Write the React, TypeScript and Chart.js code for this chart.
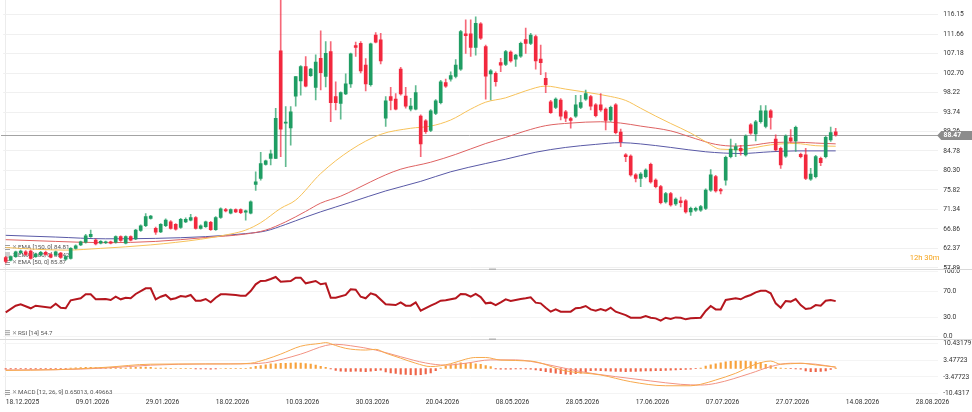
import React, { useEffect, useRef } from "react";
import { Chart, registerables } from "chart.js";

Chart.register(...registerables);

// ---------- data ----------
const dateLabels = [
  "18.12.2025", "09.01.2026", "29.01.2026", "18.02.2026", "10.03.2026", "30.03.2026", "20.04.2026",
  "08.05.2026", "28.05.2026", "17.06.2026", "07.07.2026", "27.07.2026", "14.08.2026", "28.08.2026",
];

const opens = [
  60.3, 59.7, 60.5, 61.4, 61.6, 61.8, 60.5, 60.9, 61.5, 61.0,
  60.9, 61.3, 59.9, 60.1, 62.4, 63.2, 63.8, 65.1, 64.3, 63.6,
  63.7, 63.9, 63.8, 65.1, 63.6, 65.1, 64.6, 66.5, 67.6, 69.3,
  67.0, 66.2, 67.6, 68.5, 67.9, 67.2, 68.5, 68.9, 69.5, 67.0,
  67.4, 68.4, 66.7, 69.5, 71.3, 70.5, 71.3, 71.3, 70.7, 70.5,
  77.1, 78.5, 81.7, 83.1, 83.1, 107.8, 91.2, 90.1, 97.4, 100.9,
  104.2, 102.1, 99.4, 106.1, 101.9, 107.6, 97.3, 95.7, 97.9, 100.2,
  109.0, 109.5, 104.5, 100.0, 111.4, 110.3, 92.3, 97.3, 96.7, 103.6,
  97.4, 94.4, 94.4, 92.8, 91.7, 89.5, 93.4, 95.9, 100.5, 101.3,
  101.9, 103.6, 111.7, 111.7, 108.6, 114.0, 108.8, 102.5, 102.6, 105.1,
  104.7, 107.5, 105.9, 106.6, 110.4, 109.5, 111.1, 105.9, 101.5, 96.1,
  94.8, 96.5, 93.8, 92.2, 92.8, 94.8, 96.7, 97.3, 95.4, 95.4,
  94.4, 91.9, 95.4, 89.1, 83.9, 83.6, 79.3, 78.5, 78.9, 81.7,
  78.1, 76.6, 73.1, 75.0, 72.6, 73.3, 73.3, 70.8, 71.2, 71.2,
  71.6, 75.8, 78.9, 75.9, 78.1, 83.5, 85.0, 85.4, 83.9, 90.8,
  88.7, 91.5, 90.4, 94.0, 87.5, 85.4, 83.6, 87.8, 87.1, 84.0,
  83.9, 78.3, 78.9, 83.1, 83.5, 87.3, 89.2,
];
const highs = [
  60.6, 60.7, 61.8, 62.0, 61.9, 62.0, 61.3, 61.7, 61.8, 61.2,
  61.8, 61.5, 60.7, 62.6, 63.2, 64.1, 65.6, 66.6, 64.6, 64.2,
  64.1, 64.1, 65.3, 65.3, 65.3, 65.3, 66.8, 67.8, 70.4, 70.0,
  67.3, 68.1, 69.2, 68.8, 68.1, 69.3, 69.4, 70.2, 69.7, 67.8,
  68.7, 68.6, 69.7, 71.7, 71.6, 71.5, 71.5, 71.5, 71.2, 73.3,
  80.0, 84.5, 82.7, 85.0, 94.6, 121.0, 95.0, 95.0, 101.9, 104.4,
  106.5, 103.8, 106.9, 112.4, 109.9, 109.9, 100.7, 98.4, 102.5, 107.3,
  109.8, 109.9, 106.0, 109.6, 112.0, 111.8, 97.3, 99.4, 98.0, 104.0,
  99.4, 96.9, 99.8, 93.1, 92.0, 94.3, 96.6, 101.0, 101.3, 103.0,
  105.8, 112.5, 114.9, 114.9, 115.6, 114.3, 109.1, 103.5, 103.0, 106.1,
  107.9, 107.8, 107.0, 109.8, 113.0, 111.8, 111.4, 109.1, 102.8, 96.4,
  97.0, 96.8, 94.1, 92.5, 97.6, 97.6, 98.8, 97.6, 95.7, 98.0,
  94.7, 95.1, 95.7, 89.8, 84.2, 83.9, 79.6, 79.8, 80.7, 82.0,
  78.4, 76.9, 75.3, 75.3, 74.0, 74.2, 73.6, 71.9, 71.9, 72.3,
  76.1, 80.5, 79.2, 76.2, 83.6, 87.5, 86.5, 86.1, 88.5, 91.1,
  91.8, 95.2, 95.2, 94.3, 88.5, 85.7, 88.5, 89.7, 90.5, 84.3,
  85.4, 80.8, 83.8, 83.4, 88.2, 90.3, 90.0,
];
const lows = [
  59.0, 59.5, 60.3, 61.2, 60.8, 59.9, 60.3, 60.7, 60.8, 60.2,
  60.7, 60.1, 59.7, 59.9, 62.2, 63.0, 63.6, 64.9, 63.2, 63.4,
  63.5, 63.4, 63.6, 64.0, 63.4, 64.1, 64.4, 66.3, 67.4, 69.1,
  65.6, 66.0, 67.4, 66.8, 66.6, 67.0, 68.3, 68.7, 66.8, 66.8,
  67.2, 66.5, 66.5, 69.3, 70.8, 70.3, 70.6, 70.4, 68.9, 70.3,
  75.7, 78.1, 81.5, 81.6, 83.0, 83.5, 81.2, 86.1, 95.1, 97.6,
  99.5, 101.9, 96.5, 98.8, 99.5, 91.5, 94.2, 92.1, 97.7, 99.4,
  106.5, 102.7, 98.6, 99.7, 109.6, 104.8, 90.4, 94.2, 94.2, 97.6,
  94.6, 94.0, 94.2, 83.5, 88.8, 89.2, 93.1, 95.6, 99.4, 100.8,
  101.6, 103.3, 107.2, 106.5, 106.8, 110.4, 96.7, 96.5, 99.7, 103.0,
  104.4, 105.2, 104.2, 106.3, 107.2, 109.2, 103.6, 102.3, 98.2, 93.4,
  94.5, 91.9, 91.5, 90.0, 92.5, 94.5, 96.4, 94.2, 92.6, 93.9,
  89.6, 91.6, 88.7, 85.8, 82.3, 79.0, 77.7, 76.6, 78.6, 77.4,
  76.3, 72.6, 72.8, 72.1, 72.3, 71.9, 70.5, 70.0, 70.9, 70.9,
  71.3, 75.5, 75.3, 74.9, 76.9, 83.2, 83.5, 83.8, 83.6, 88.6,
  87.1, 91.2, 90.1, 89.8, 84.8, 80.8, 83.3, 86.8, 84.7, 83.2,
  78.2, 78.0, 78.6, 81.4, 83.2, 87.0, 88.2,
];
const closes = [
  59.4, 60.5, 61.6, 61.8, 61.0, 60.1, 61.1, 61.5, 61.0, 60.4,
  61.6, 60.3, 60.5, 62.4, 63.0, 63.9, 65.3, 65.6, 63.4, 64.0,
  63.9, 63.6, 65.1, 64.2, 65.1, 64.3, 66.6, 67.6, 69.7, 69.8,
  66.1, 67.9, 68.9, 67.0, 66.8, 69.1, 69.1, 69.5, 67.0, 67.6,
  68.5, 66.7, 69.5, 71.5, 71.0, 71.3, 70.8, 70.6, 71.0, 73.1,
  77.7, 81.9, 82.5, 84.1, 92.3, 89.8, 91.4, 93.8, 101.9, 104.2,
  99.7, 103.6, 105.2, 102.8, 107.2, 95.9, 95.9, 98.2, 100.2, 107.1,
  108.6, 103.2, 100.2, 109.4, 109.8, 105.5, 96.3, 96.4, 94.4, 97.9,
  95.1, 95.1, 98.2, 86.4, 89.2, 94.0, 96.3, 100.7, 99.7, 102.1,
  104.5, 112.2, 111.3, 108.6, 114.1, 110.7, 102.0, 103.2, 100.7, 104.5,
  107.6, 105.5, 106.8, 109.5, 109.5, 111.4, 105.5, 105.1, 100.0, 93.6,
  96.7, 92.8, 92.3, 91.8, 95.4, 95.9, 98.0, 95.1, 92.9, 94.2,
  91.8, 94.8, 89.0, 86.9, 83.5, 79.3, 78.5, 79.5, 80.4, 77.7,
  76.6, 72.9, 75.0, 72.4, 73.7, 72.9, 70.8, 71.6, 71.6, 72.0,
  75.8, 79.3, 75.6, 75.6, 83.3, 85.2, 85.8, 84.8, 88.2, 88.9,
  91.5, 94.0, 94.0, 92.5, 85.0, 81.6, 88.2, 87.1, 90.2, 83.5,
  78.5, 79.5, 83.5, 82.1, 87.9, 89.0, 88.47,
];

const lastPrice = 88.47;
const priceTicks = [57.89, 62.37, 66.86, 71.34, 75.82, 80.3, 84.78, 89.26, 93.74, 98.22, 102.7, 107.18, 111.66, 116.15];
const rsiTicks = [0, 30, 70, 100];
const macdTickValues = [-10.4317, -3.47723, 3.47723, 10.43179];
const macdTickLabels = ["-10.4317", "-3.47723", "3.47723", "10.43179"];

const ema50Bars = [0, 6, 12, 19, 29, 39, 45, 48, 51, 55, 58, 63, 69, 75, 81, 85, 89, 93, 96, 100, 104, 108, 112, 116, 121, 124, 127, 130, 133, 137, 140, 143, 147, 150, 153, 158, 162, 166];
const ema50Vals = [62.6, 62.2, 62.0, 62.4, 63.2, 64.5, 65.7, 66.6, 68.3, 71.6, 73.5, 79.6, 85.0, 88.6, 90.0, 90.5, 91.9, 94.4, 96.0, 97.0, 98.6, 99.7, 99.0, 98.3, 97.3, 96.4, 94.6, 92.8, 91.1, 88.9, 86.9, 85.2, 85.1, 85.6, 86.2, 86.5, 86.0, 85.87];

const ema100Bars = [0, 10, 20, 30, 40, 48, 52, 56, 60, 63, 67, 70, 73, 76, 79, 85, 90, 96, 100, 104, 108, 113, 119, 123, 127, 133, 138, 142, 146, 150, 153, 158, 162, 166];
const ema100Vals = [64.4, 64.0, 63.7, 64.0, 64.9, 65.7, 66.6, 68.5, 70.9, 72.8, 74.4, 76.0, 77.7, 79.3, 80.6, 82.2, 84.0, 86.5, 87.9, 89.4, 90.6, 91.2, 91.5, 91.2, 90.5, 89.4, 87.6, 86.3, 85.9, 86.2, 86.7, 86.8, 86.6, 86.42];

const ema150Bars = [0, 10, 20, 30, 40, 48, 52, 56, 60, 63, 69, 76, 83, 89, 96, 100, 106, 112, 118, 123, 127, 133, 140, 147, 153, 158, 166];
const ema150Vals = [65.4, 65.0, 64.6, 64.7, 65.1, 65.8, 66.4, 67.9, 69.6, 70.8, 73.0, 75.6, 77.8, 80.0, 81.9, 82.9, 84.5, 85.6, 86.3, 86.7, 86.4, 85.6, 84.6, 84.2, 84.6, 84.8, 84.81];

const rsiBars = [0, 2, 3, 5, 6, 9, 10, 11, 12, 13, 15, 16, 17, 18, 20, 21, 22, 23, 24, 25, 26, 28, 29, 30, 31, 32, 33, 34, 35, 36, 37, 38, 39, 40, 41, 42, 43, 44, 46, 47, 48, 49, 50, 51, 52, 53, 54, 55, 57, 58, 59, 60, 62, 63, 64, 65, 66, 68, 69, 70, 71, 72, 73, 74, 76, 78, 79, 80, 81, 82, 83, 85, 86, 87, 88, 90, 91, 92, 93, 94, 95, 96, 97, 98, 99, 100, 101, 103, 104, 105, 106, 107, 108, 109, 110, 111, 113, 114, 115, 116, 117, 118, 119, 120, 121, 122, 123, 124, 125, 127, 128, 129, 130, 131, 132, 133, 134, 135, 136, 137, 139, 140, 141, 142, 143, 144, 146, 147, 148, 149, 150, 151, 152, 153, 154, 155, 156, 157, 158, 159, 160, 161, 162, 163, 164, 165, 166];
const rsiVals = [37.5, 47.7, 49.8, 43.7, 47.7, 44.6, 50.8, 44.6, 43.7, 56.0, 59.1, 65.2, 65.2, 57.5, 58.0, 56.5, 61.5, 57.5, 60.0, 59.1, 65.7, 74.4, 74.4, 57.5, 61.5, 64.2, 57.5, 59.1, 62.6, 61.5, 64.2, 55.4, 55.4, 58.0, 52.9, 60.0, 65.2, 65.2, 64.2, 63.1, 63.1, 70.3, 80.6, 85.7, 86.2, 88.8, 91.8, 84.6, 85.7, 90.8, 90.8, 82.1, 85.7, 80.6, 82.1, 60.0, 60.0, 64.2, 72.9, 72.3, 61.5, 59.1, 66.7, 64.2, 49.8, 48.7, 52.9, 47.7, 47.7, 52.9, 40.0, 47.7, 51.3, 55.4, 56.0, 59.1, 65.7, 65.2, 61.5, 65.7, 61.0, 51.3, 52.4, 48.7, 52.9, 57.5, 55.0, 58.0, 59.1, 60.5, 52.4, 51.3, 44.6, 38.5, 42.0, 38.5, 38.5, 43.7, 44.6, 47.2, 42.0, 40.0, 42.6, 40.0, 44.6, 38.5, 35.9, 33.3, 29.2, 29.2, 31.8, 29.2, 28.2, 24.6, 29.2, 27.2, 29.7, 29.2, 26.7, 28.2, 29.2, 39.5, 47.2, 42.0, 42.0, 56.5, 59.1, 57.5, 61.5, 64.2, 68.3, 70.8, 70.8, 66.7, 51.3, 44.6, 55.0, 54.0, 58.0, 48.7, 42.6, 43.7, 48.7, 47.7, 55.4, 56.5, 54.7];

const macdBars = [0, 10, 20, 29, 40, 45, 49, 52, 55, 59, 63, 64, 66, 68, 72, 74, 76, 79, 82, 85, 89, 92, 94, 96, 99, 105, 112, 119, 125, 132, 137, 139, 142, 146, 150, 153, 155, 159, 162, 166];
const macdVals = [-0.8, -0.5, 0.5, 1.8, 1.9, 1.9, 2.2, 3.8, 6.0, 9.3, 10.5, 10.8, 9.6, 8.4, 7.7, 8.0, 6.4, 4.3, 2.2, 0.8, 2.0, 3.9, 4.6, 4.6, 3.5, 3.1, -1.0, -2.7, -5.5, -7.2, -7.2, -6.6, -4.8, -2.0, 1.8, 3.1, 1.8, 2.2, 1.5, 0.65];

const signalBars = [0, 10, 20, 29, 40, 49, 52, 59, 64, 66, 69, 74, 79, 84, 88, 92, 97, 102, 108, 115, 122, 129, 135, 139, 142, 149, 153, 157, 162, 166];
const signalVals = [-0.6, -0.5, 0.2, 1.4, 1.9, 2.0, 2.4, 6.0, 9.6, 10.1, 9.5, 7.7, 4.9, 2.3, 1.4, 2.2, 3.6, 3.6, 1.8, -1.3, -3.4, -5.2, -6.6, -6.9, -6.2, -2.0, 0.8, 2.2, 1.8, 0.5];

const macdHist = [
  -0.3, -0.2, -0.2, -0.1, -0.2, -0.3, -0.2, -0.1, -0.1, -0.2, -0.1, -0.2, -0.3,
  0.2, 0.3, 0.4, 0.5, 0.5, 0.4, 0.4, 0.3, 0.4, 0.3, 0.3, 0.2, 0.4, 0.5, 0.6, 0.6, 0.5,
  0.2, 0.2, 0.2, 0.1, 0.0, 0.1, 0.1, 0.1,
  -0.2, -0.2, -0.2, -0.3, -0.2, 0.0,
  0.1, 0.1, 0.1, 0.1, 0.1, 0.4,
  0.9, 1.2, 1.5, 1.9, 2.0, 2.2, 2.2, 2.3, 2.4, 2.3, 2.1, 1.8, 1.4, 0.9, 0.5,
  -0.2, -0.8, -1.1, -1.2, -1.2, -1.1, -1.2, -1.3, -1.1, -0.9, -0.7,
  -1.4, -1.8, -2.1, -2.4, -2.5, -2.6, -2.7, -2.6, -2.3, -1.8, -0.9, 0.2,
  1.0, 1.5, 1.9, 2.4, 2.2, 2.4, 2.0, 1.7, 1.2, 0.8,
  -0.2, -0.3, -0.3, -0.3, -0.2, -0.2, -0.2, -0.3,
  -0.6, -0.9, -1.3, -1.6, -1.9, -2.2, -2.4, -2.5, -2.2, -1.9, -1.3, -0.9,
  -0.8, -0.9, -1.0, -1.1, -1.2, -1.2, -1.3, -1.2, -1.2, -1.1, -1.0, -1.0, -0.9, -0.9, -0.8, -0.7, -0.6, -0.5, -0.4, -0.3,
  -0.1, 0.2,
  1.0, 1.5, 1.9, 2.4, 2.8, 3.0, 3.1, 3.1, 3.1, 2.9, 2.8, 2.6, 1.7, 1.2, 0.5,
  0.2, 0.1, -0.1, -0.2, -0.3,
  -1.0, -1.3, -1.3, -1.2, -1.0,
  -0.4, 0.15,
];

// ---------- styling ----------
const SLOTS = 187;
const GREEN = "#1f9d63";
const RED = "#f2283e";
const GREEN_WICK = "rgba(31,157,99,0.7)";
const RED_WICK = "rgba(242,40,62,0.7)";
const FONT = "Roboto, 'Noto Sans', sans-serif";

function spread(bars: number[], vals: number[]) {
  const out: (number | null)[] = new Array(SLOTS).fill(null);
  bars.forEach((b, k) => {
    out[b] = vals[k];
  });
  return out;
}

function drawTag(ctx: CanvasRenderingContext2D, y: number, text: string) {
  ctx.fillStyle = "#a0a0a0";
  ctx.fillRect(5, y - 2.5, 5, 1);
  ctx.fillRect(5, y - 0.5, 5, 1);
  ctx.fillRect(5, y + 1.5, 5, 1);
  ctx.fillStyle = "#8a8a8a";
  ctx.font = `6px ${FONT}`;
  ctx.textBaseline = "middle";
  ctx.textAlign = "left";
  ctx.fillText("✕", 11.5, y + 0.3);
  ctx.fillStyle = "#555";
  ctx.font = `6.2px ${FONT}`;
  ctx.fillText(text, 18, y + 0.3);
}

const overlay = {
  id: "overlay",
  beforeDatasetsDraw(chart: any) {
    const { ctx, chartArea, scales } = chart;
    ctx.save();
    const py = Math.round(scales.price.getPixelForValue(lastPrice)) + 0.5;
    ctx.strokeStyle = "#a3a3a3";
    ctx.lineWidth = 1;
    ctx.beginPath();
    ctx.moveTo(1, py);
    ctx.lineTo(chartArea.right, py);
    ctx.stroke();
    drawTag(ctx, 247.5, "EMA [150, 0] 84.81");
    drawTag(ctx, 255, "EMA [100, 0] 86.42");
    drawTag(ctx, 262.5, "EMA [50, 0] 85.87");
    ctx.restore();
  },
  afterDraw(chart: any) {
    const { ctx, scales, chartArea } = chart;
    ctx.save();
    ctx.strokeStyle = "#d9d9d9";
    ctx.lineWidth = 1;
    [scales.price.bottom, scales.rsi.bottom].forEach((yy: number) => {
      const y = Math.round(yy) + 0.5;
      ctx.beginPath();
      ctx.moveTo(0, y);
      ctx.lineTo(972, y);
      ctx.stroke();
      ctx.fillStyle = "#b5b5b5";
      ctx.fillRect(489, y - 1, 7, 1.5);
    });
    drawTag(ctx, 332.7, "RSI [14] 54.7");
    drawTag(ctx, 392.5, "MACD [12, 26, 9] 0.65013, 0.49663");
    const py = Math.round(scales.price.getPixelForValue(lastPrice)) + 0.5;
    ctx.fillStyle = "#8c8c8c";
    ctx.beginPath();
    ctx.moveTo(chartArea.right - 1, py);
    ctx.lineTo(chartArea.right + 3, py - 4.5);
    ctx.lineTo(972, py - 4.5);
    ctx.lineTo(972, py + 4.5);
    ctx.lineTo(chartArea.right + 3, py + 4.5);
    ctx.closePath();
    ctx.fill();
    ctx.fillStyle = "#ffffff";
    ctx.font = `bold 6.8px ${FONT}`;
    ctx.textAlign = "left";
    ctx.textBaseline = "middle";
    ctx.fillText(lastPrice.toFixed(2), 943.5, py + 0.3);
    ctx.fillStyle = "#f5a31a";
    ctx.font = `7.6px ${FONT}`;
    ctx.textAlign = "right";
    ctx.fillText("12h 30m", 939.5, 258.5);
    ctx.restore();
  },
};

export default function App() {
  const ref = useRef<HTMLCanvasElement>(null);

  useEffect(() => {
    const canvas = ref.current;
    if (!canvas) return;
    const labels = Array.from({ length: SLOTS }, (_, i) => String(i));
    const up = closes.map((c, i) => c >= opens[i]);
    const bodies = opens.map((o, i) => [Math.min(o, closes[i]), Math.max(o, closes[i])]);
    const wicks = highs.map((h, i) => [lows[i], h]);

    const tickFont = { size: 6.7, family: FONT };
    const noPad = (s: any) => {
      s.paddingTop = 0;
      s.paddingBottom = 0;
      s.paddingLeft = 0;
      s.paddingRight = 0;
    };
    const axisWidth = (s: any) => {
      s.width = 33.8;
      noPad(s);
    };

    const chart = new Chart(canvas, {
      data: {
        labels,
        datasets: [
          {
            type: "bar",
            yAxisID: "price",
            data: bodies as any,
            backgroundColor: up.map((u) => (u ? GREEN : RED)),
            barThickness: 3,
            minBarLength: 1,
            grouped: false,
            order: 0,
          },
          {
            type: "bar",
            yAxisID: "price",
            data: wicks as any,
            backgroundColor: up.map((u) => (u ? GREEN_WICK : RED_WICK)),
            barThickness: 1,
            grouped: false,
            order: 1,
          },
          {
            type: "line",
            yAxisID: "price",
            data: spread(ema50Bars, ema50Vals),
            borderColor: "#f7c25a",
            borderWidth: 1,
            pointRadius: 0,
            spanGaps: true,
            cubicInterpolationMode: "monotone",
            order: 2,
          },
          {
            type: "line",
            yAxisID: "price",
            data: spread(ema100Bars, ema100Vals),
            borderColor: "#de6262",
            borderWidth: 1,
            pointRadius: 0,
            spanGaps: true,
            cubicInterpolationMode: "monotone",
            order: 2,
          },
          {
            type: "line",
            yAxisID: "price",
            data: spread(ema150Bars, ema150Vals),
            borderColor: "#5959a6",
            borderWidth: 1,
            pointRadius: 0,
            spanGaps: true,
            cubicInterpolationMode: "monotone",
            order: 2,
          },
          {
            type: "line",
            yAxisID: "rsi",
            data: spread(rsiBars, rsiVals),
            borderColor: "#b5161e",
            borderWidth: 2,
            pointRadius: 0,
            spanGaps: true,
            order: 2,
          },
          {
            type: "line",
            yAxisID: "macd",
            data: spread(macdBars, macdVals),
            borderColor: "#f7a94d",
            borderWidth: 1,
            pointRadius: 0,
            spanGaps: true,
            cubicInterpolationMode: "monotone",
            order: 1,
          },
          {
            type: "line",
            yAxisID: "macd",
            data: spread(signalBars, signalVals),
            borderColor: "#f29383",
            borderWidth: 1,
            pointRadius: 0,
            spanGaps: true,
            cubicInterpolationMode: "monotone",
            order: 1,
          },
          {
            type: "bar",
            yAxisID: "macd",
            data: macdHist,
            backgroundColor: macdHist.map((v) => (v >= 0 ? "#f7a23c" : "#ef6448")),
            barThickness: 1.5,
            grouped: false,
            order: 3,
          },
        ] as any,
      },
      options: {
        responsive: false,
        animation: false,
        events: [],
        layout: { padding: { left: 3.2, top: 0, right: 0, bottom: 0 }, autoPadding: false },
        plugins: { legend: { display: false }, tooltip: { enabled: false } },
        scales: {
          x: {
            type: "category",
            offset: true,
            grid: {
              offset: false,
              drawTicks: false,
              color: (c: any) => (c.index % 14 === 0 ? "#ececec" : "rgba(0,0,0,0)"),
            },
            border: { display: false },
            ticks: {
              autoSkip: false,
              maxRotation: 0,
              align: "start",
              padding: 1.5,
              font: tickFont,
              color: "#333",
              callback: (_v: any, i: number) => (i % 14 === 0 && dateLabels[i / 14] ? dateLabels[i / 14] : null),
            },
            afterFit: (s: any) => {
              s.height = 15;
              noPad(s);
            },
          },
          price: {
            type: "linear",
            position: "right",
            stack: "panes",
            stackWeight: 269,
            min: 57.66,
            max: 119.48,
            afterBuildTicks: (s: any) => {
              s.ticks = priceTicks.map((v) => ({ value: v }));
            },
            ticks: { autoSkip: false, font: tickFont, color: "#333", padding: 5, callback: (v: any) => Number(v).toFixed(2) },
            grid: { color: "#f0f0f0", drawTicks: false },
            border: { display: false },
            afterFit: axisWidth,
          },
          rsi: {
            type: "linear",
            position: "right",
            stack: "panes",
            stackWeight: 70,
            min: -3.54,
            max: 104.15,
            afterBuildTicks: (s: any) => {
              s.ticks = rsiTicks.map((v) => ({ value: v }));
            },
            ticks: { autoSkip: false, font: tickFont, color: "#333", padding: 5, callback: (v: any) => Number(v).toFixed(1) },
            grid: { color: "#f4f4f4", drawTicks: false },
            border: { display: false },
            afterFit: axisWidth,
          },
          macd: {
            type: "linear",
            position: "right",
            stack: "panes",
            stackWeight: 58,
            min: -11.89,
            max: 12.31,
            afterBuildTicks: (s: any) => {
              s.ticks = macdTickValues.map((v) => ({ value: v }));
            },
            ticks: {
              autoSkip: false,
              font: tickFont,
              color: "#333",
              padding: 5,
              callback: (_v: any, i: number) => macdTickLabels[i],
            },
            grid: { color: "#f4f4f4", drawTicks: false },
            border: { display: false },
            afterFit: axisWidth,
          },
        },
      } as any,
      plugins: [overlay],
    });
    return () => chart.destroy();
  }, []);

  return (
    <div style={{ position: "absolute", left: 0, top: 0, width: 972, height: 412, background: "#ffffff" }}>
      <canvas ref={ref} width={972} height={412} style={{ display: "block", width: 972, height: 412 }} />
    </div>
  );
}
